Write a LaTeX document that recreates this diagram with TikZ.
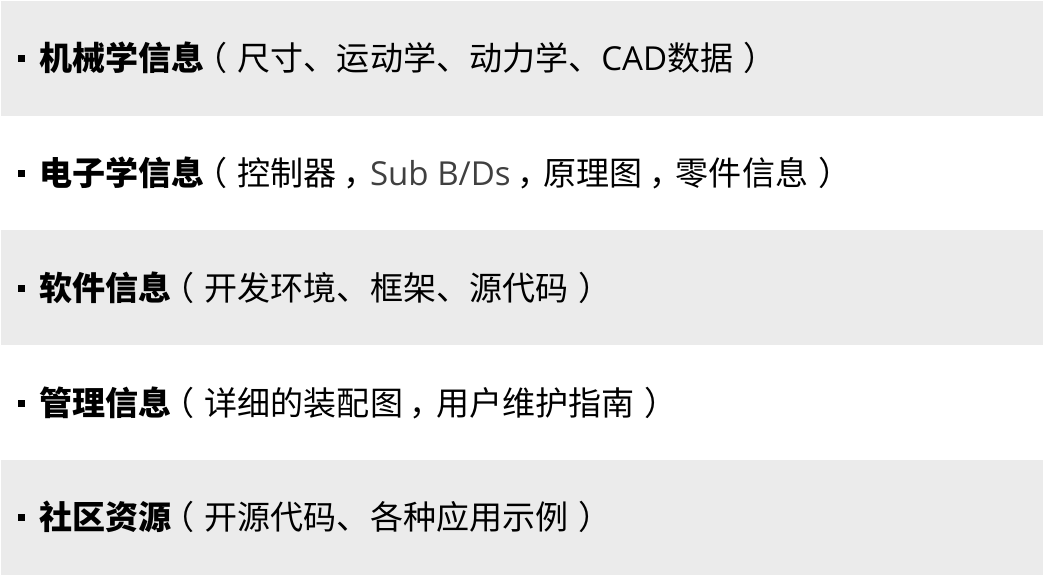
\documentclass[tikz,border=0pt]{standalone}
\usepackage{fontspec}
\setmainfont{Noto Sans CJK SC}
\newfontfamily\latinfont{Open Sans}
\usetikzlibrary{positioning}
\definecolor{bandgray}{HTML}{EBEBEB}
\definecolor{latingray}{HTML}{404040}
% full-width marks with centred glyphs
\newcommand{\lparcn}{\hspace{-0.3em}（\hspace{0.3em}}
\newcommand{\rparcn}{\hspace{0.3em}）\hspace{-0.3em}}
\newcommand{\commacn}{\hspace{0.2em}，\hspace{-0.2em}}
\tikzset{
  band/.style={fill=bandgray, draw=none},
  dot/.style={fill=black, draw=none, minimum size=0.175cm, inner sep=0pt},
  item/.style={anchor=west, inner sep=0pt, font=\fontsize{23.5}{28}\selectfont},
}
\begin{document}
\begin{tikzpicture}[x=0.025cm,y=-0.025cm]
  \useasboundingbox (0,0) rectangle (1043,575);

  % Drawing bands
  \fill [band] (1,1) rectangle (1043,116);
  \fill [band] (1,230) rectangle (1043,345);
  \fill [band] (1,460) rectangle (1043,575);

  % Item 1
  \node [dot] (d1) at (21.5,58) {};
  \node [item, right=0.35cm of d1] (t1) {\textbf{机械学信息}\lparcn 尺寸、运动学、动力学、{\latinfont CAD}数据\rparcn};

  % Item 2
  \node [dot] (d2) at (21.5,173) {};
  \node [item, right=0.35cm of d2] (t2) {\textbf{电子学信息}\lparcn 控制器\commacn{\latinfont\color{latingray}Sub B/Ds}\commacn 原理图\commacn 零件信息\rparcn};

  % Item 3
  \node [dot] (d3) at (21.5,288) {};
  \node [item, right=0.35cm of d3] (t3) {\textbf{软件信息}\lparcn 开发环境、框架、源代码\rparcn};

  % Item 4
  \node [dot] (d4) at (21.5,403) {};
  \node [item, right=0.35cm of d4] (t4) {\textbf{管理信息}\lparcn 详细的装配图\commacn 用户维护指南\rparcn};

  % Item 5
  \node [dot] (d5) at (21.5,517) {};
  \node [item, right=0.35cm of d5] (t5) {\textbf{社区资源}\lparcn 开源代码、各种应用示例\rparcn};
\end{tikzpicture}
\end{document}
